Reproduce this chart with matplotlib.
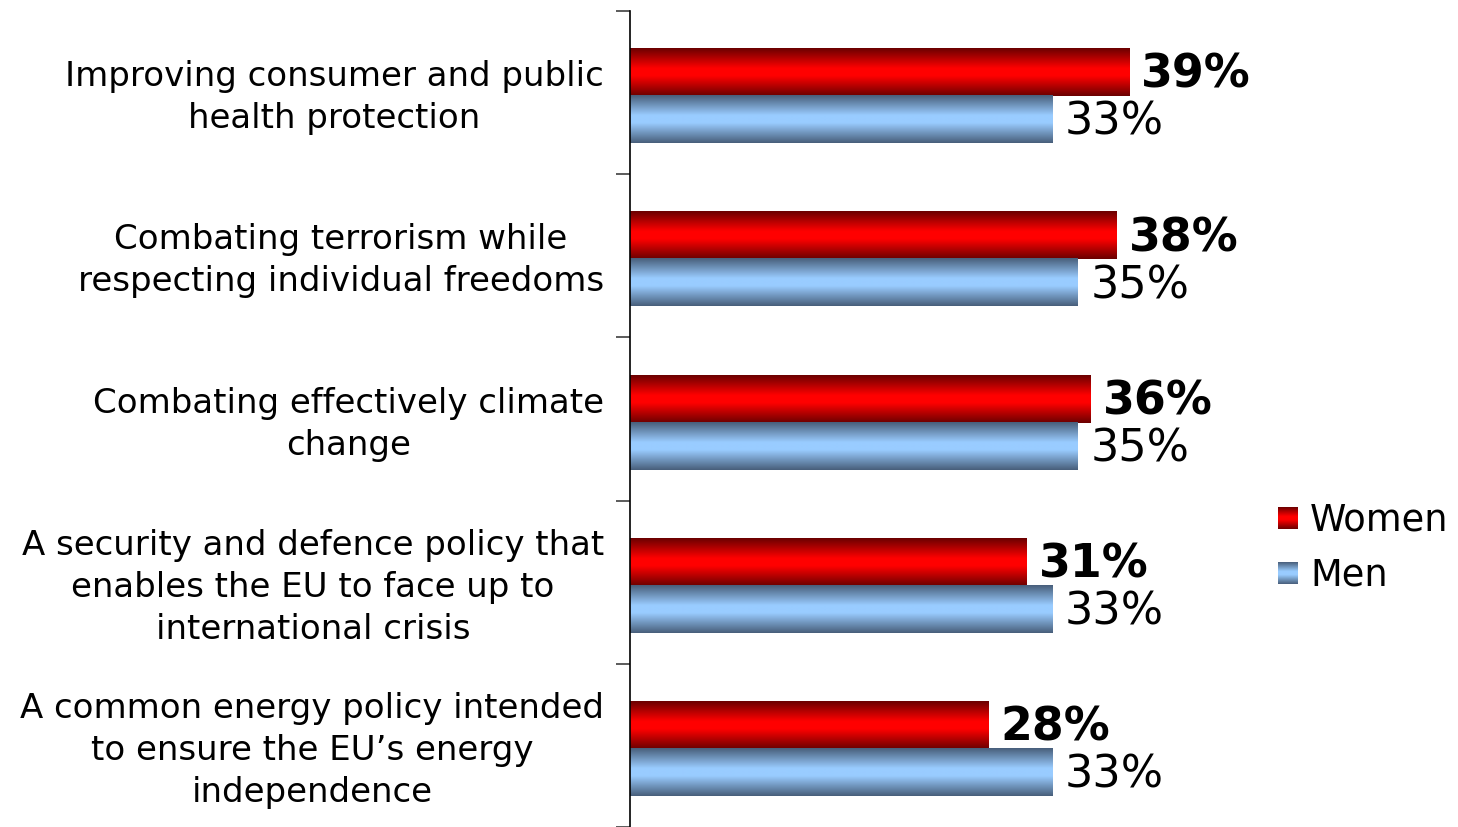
import numpy as np
import matplotlib
matplotlib.use("Agg")
import matplotlib.pyplot as plt
from matplotlib.colors import LinearSegmentedColormap

plt.rcParams['font.family'] = ['DejaVu Sans']

categories = [
    "Improving consumer and public\nhealth protection",
    "Combating terrorism while\nrespecting individual freedoms",
    "Combating effectively climate\nchange",
    "A security and defence policy that\nenables the EU to face up to\ninternational crisis",
    "A common energy policy intended\nto ensure the EU\u2019s energy\nindependence",
]
women = [39, 38, 36, 31, 28]
men = [33, 35, 35, 33, 33]
series_names = ["Women", "Men"]

red_cmap = LinearSegmentedColormap.from_list(
    "red_tube", [(0.0, "#6a0000"), (0.42, "#ff0000"), (0.58, "#ff0000"), (1.0, "#6a0000")])
blue_cmap = LinearSegmentedColormap.from_list(
    "blue_tube", [(0.0, "#485e7a"), (0.42, "#99ccff"), (0.58, "#99ccff"), (1.0, "#485e7a")])

W, H = 1458, 828
fig = plt.figure(figsize=(W / 100, H / 100), dpi=100)
ax_left, ax_right, ax_top, ax_bottom = 630, 1230, 12, 828
ax = fig.add_axes([ax_left / W, 1 - ax_bottom / H, (ax_right - ax_left) / W, (ax_bottom - ax_top) / H])

px_per_unit = 12.8
n = len(categories)

bar_h = 0.288
offset = 0.022
grad = np.linspace(0, 1, 256).reshape(-1, 1)


def tube_bar(x_val, y_top, cmap):
    ax.imshow(grad, extent=[0, x_val, y_top + bar_h, y_top], aspect='auto',
              cmap=cmap, interpolation='bilinear', zorder=2)


for i, (w, m) in enumerate(zip(women, men)):
    yc = i + offset
    tube_bar(w, yc - bar_h, red_cmap)
    tube_bar(m, yc, blue_cmap)
    ax.text(w + 0.95, yc - bar_h / 2 + 0.01, f"{w}%", fontsize=33, fontweight='bold',
            va='center', ha='left', color='black')
    ax.text(m + 0.95, yc + bar_h / 2 + 0.01, f"{m}%", fontsize=32,
            va='center', ha='left', color='black')
    ax.text(-26 / px_per_unit, i + 0.025, categories[i], fontsize=24.5, ha='right', va='center',
            multialignment='center', linespacing=1.35, color='black')

ax.set_xlim(0, (ax_right - ax_left) / px_per_unit)
ax.set_ylim(n - 0.5, -0.5)

for s in ['top', 'right', 'bottom']:
    ax.spines[s].set_visible(False)
ax.spines['left'].set_color('#000000')
ax.spines['left'].set_linewidth(1.2)
ax.set_xticks([])
ax.set_yticks(np.arange(-0.5, n, 1.0))
ax.set_yticklabels([])
ax.tick_params(axis='y', length=10, width=1.2, color='#404040', direction='out')

# legend swatches with the same tube shading
leg_items = [(series_names[0], red_cmap, 508), (series_names[1], blue_cmap, 563)]
for name, cmap, ytop in leg_items:
    lax = fig.add_axes([1278 / W, 1 - (ytop + 22) / H, 20 / W, 22 / H])
    lax.imshow(grad, aspect='auto', cmap=cmap, interpolation='bilinear')
    lax.axis('off')
    fig.text(1310 / W, 1 - (ytop + 12) / H, name, fontsize=26.5, va='center', ha='left')

fig.savefig("out.png", dpi=100)
